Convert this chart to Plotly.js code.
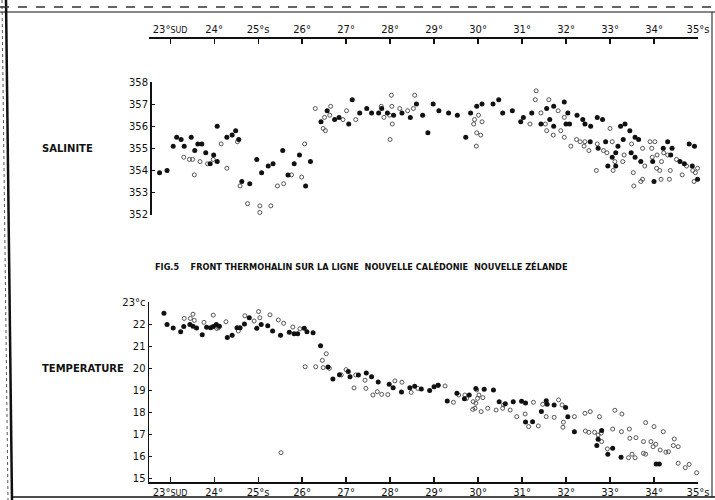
<!DOCTYPE html>
<html>
<head>
<meta charset="utf-8">
<script src="https://cdn.plot.ly/plotly-3.0.1.min.js"></script>
<style>html,body{margin:0;padding:0;background:#fff;}#chart{width:715px;height:500px;}</style>
</head>
<body>
<div id="chart"></div>
<script>
// ---- Longitude ticks (degrees south latitude along the section) ----
const latTickVals = [23,24,25,26,27,28,29,30,31,32,33,34,35];
const latTickText = ["23°<span style='font-size:8px'>SUD</span>","24°","25°s","26°","27°","28°","29°","30°","31°","32°","33°","34°","35°s"];

// ---- Salinity ticks ----
const salTickVals = [35.2,35.3,35.4,35.5,35.6,35.7,35.8];
const salTickText = ["352","353","354","355","356","357","358"];

// ---- Temperature ticks ----
const tempTickVals = [15,16,17,18,19,20,21,22,23];
const tempTickText = ["15","16","17","18","19","20","21","22","23°c"];

// ---- Salinity: filled dots ----
const salFilledLat = [22.76,22.93,23.07,23.15,23.25,23.32,23.48,23.56,23.63,23.72,23.81,23.91,23.99,24.07,24.07,24.29,24.41,24.49,24.56,24.63,24.81,24.97,25.08,25.23,25.34,25.56,25.68,25.82,25.94,26.08,26.19,26.43,26.57,26.74,26.84,
27.14,27.06,27.31,27.47,27.58,27.74,27.81,27.94,28.08,28.27,28.46,28.60,28.74,28.86,28.98,29.11,29.33,29.53,29.72,29.83,29.97,30.09,30.34,30.47,30.56,30.78,30.97,31.03,
31.22,31.43,31.56,31.63,31.72,31.72,31.96,32.00,32.04,32.08,32.25,32.38,32.43,32.56,32.71,32.83,33.24,33.34,33.45,32.55,32.73,32.90,33.13,33.30,33.05,32.95,33.13,33.18,33.48,33.57,33.65,33.57,33.70,33.97,34.21,34.31,34.41,34.38,34.59,34.69,34.80,34.92,34.87,34.00,34.99];
const salFilled = [35.39,35.40,35.51,35.55,35.54,35.51,35.55,35.49,35.52,35.52,35.48,35.43,35.47,35.44,35.60,35.55,35.56,35.58,35.54,35.35,35.34,35.45,35.39,35.42,35.43,35.49,35.38,35.43,35.47,35.33,35.44,35.62,35.67,35.63,35.64,
35.72,35.61,35.66,35.68,35.66,35.66,35.68,35.66,35.65,35.66,35.64,35.70,35.65,35.57,35.70,35.67,35.66,35.65,35.55,35.66,35.69,35.70,35.70,35.72,35.66,35.67,35.62,35.64,
35.66,35.61,35.68,35.63,35.69,35.60,35.71,35.61,35.66,35.61,35.65,35.63,35.61,35.60,35.64,35.63,35.60,35.61,35.58,35.53,35.50,35.53,35.48,35.54,35.46,35.42,35.42,35.51,35.48,35.55,35.54,35.46,35.44,35.44,35.50,35.53,35.50,35.47,35.44,35.43,35.52,35.51,35.42,35.35,35.36];

// ---- Salinity: open circles ----
const salOpenLat = [23.31,23.44,23.51,23.55,23.68,23.85,23.98,24.16,24.29,24.53,24.59,24.76,25.04,25.04,25.29,25.44,25.58,25.76,25.99,26.06,26.30,26.48,26.53,26.63,26.65,26.51,
26.93,27.01,27.22,27.80,27.86,28.03,28.04,27.99,28.05,28.00,28.22,28.40,28.53,28.56,29.92,29.90,30.01,30.09,29.97,30.06,29.96,
31.32,31.30,31.61,31.82,31.43,31.18,31.53,31.56,31.71,31.88,31.96,31.96,32.11,32.24,32.32,32.43,32.41,32.52,32.71,32.85,32.93,33.00,33.05,33.11,33.29,33.32,32.69,33.07,33.49,33.53,33.54,33.70,33.74,33.74,33.79,33.91,33.95,34.02,33.96,34.07,34.06,34.13,34.17,34.22,34.31,34.35,34.51,34.64,34.74,34.88,34.94,34.99,34.91,34.16,34.37];
const salOpen = [35.46,35.45,35.45,35.38,35.44,35.43,35.45,35.52,35.41,35.53,35.33,35.25,35.24,35.21,35.24,35.33,35.34,35.38,35.37,35.52,35.68,35.59,35.58,35.65,35.69,35.64,
35.63,35.67,35.63,35.69,35.64,35.74,35.69,35.65,35.61,35.54,35.68,35.67,35.68,35.74,35.63,35.61,35.65,35.62,35.57,35.56,35.51,
35.76,35.72,35.72,35.67,35.66,35.61,35.61,35.58,35.56,35.58,35.55,35.64,35.51,35.54,35.53,35.53,35.51,35.49,35.52,35.49,35.48,35.59,35.53,35.44,35.44,35.47,35.40,35.40,35.52,35.39,35.33,35.35,35.36,35.50,35.42,35.53,35.50,35.53,35.46,35.47,35.41,35.40,35.44,35.48,35.47,35.36,35.45,35.38,35.42,35.40,35.39,35.41,35.35,35.36,35.40];

// ---- Temperature: filled dots ----
const tempFilledLat = [22.86,22.93,23.07,23.24,23.31,23.45,23.52,23.60,23.73,23.83,23.92,23.98,24.05,24.12,24.30,24.41,24.52,24.59,24.69,24.80,24.97,25.07,25.22,25.33,25.51,25.71,25.82,25.90,26.05,26.11,26.25,26.42,26.59,26.70,26.85,
27.05,27.09,27.28,27.46,27.58,27.73,27.98,28.07,28.26,28.45,28.56,28.71,28.90,29.00,29.09,29.30,29.52,29.69,29.80,29.95,30.14,30.35,30.48,30.62,30.80,30.99,31.08,31.08,
31.24,31.55,31.57,31.73,32.04,31.99,31.44,32.19,32.73,32.70,32.81,33.06,32.95,33.25,34.05,34.12];
const tempFilled = [22.50,22.00,21.84,21.67,21.90,21.99,21.91,21.84,21.53,21.87,21.85,21.90,21.99,21.91,21.40,21.51,21.85,21.85,22.02,22.30,21.82,21.99,21.94,21.70,21.51,21.64,21.58,21.58,21.82,21.67,21.62,21.03,20.07,19.53,19.72,
19.87,19.63,19.71,19.80,19.63,19.39,19.29,19.13,18.94,19.13,19.20,19.07,19.00,19.18,19.24,18.53,18.88,18.63,18.80,19.10,19.06,19.03,18.50,18.41,18.50,18.52,18.44,17.58,
17.59,18.54,18.38,18.35,17.82,18.23,18.05,17.14,16.80,16.51,17.19,16.39,16.12,15.98,15.68,15.68];

// ---- Temperature: open circles ----
const tempOpenLat = [23.32,23.46,23.52,23.55,23.77,23.98,24.06,24.10,24.27,24.55,24.70,24.91,25.01,25.04,25.27,25.46,25.58,25.79,25.95,26.07,26.31,26.46,26.55,26.48,26.62,25.52,
26.89,27.00,27.18,27.22,27.43,27.45,27.61,27.71,27.81,27.95,28.11,28.27,28.48,28.63,29.10,29.25,29.44,29.56,29.70,29.74,29.89,29.97,29.99,29.95,29.93,30.02,30.11,30.22,30.07,29.88,30.41,30.56,30.58,30.73,30.88,31.07,31.15,
31.26,31.47,31.55,31.73,31.83,31.91,32.19,31.94,31.93,31.37,32.43,32.55,32.76,33.11,33.27,32.44,32.52,32.65,32.73,32.80,33.06,33.26,33.44,32.81,32.94,33.45,33.59,33.76,33.81,34.00,34.21,33.93,33.98,34.04,34.14,34.33,34.44,34.46,34.55,34.27,33.81,33.57,33.50,33.42,33.76,34.55,34.80,34.71,34.97];
const tempOpen = [22.27,22.27,22.46,22.18,22.09,22.42,21.82,21.85,22.12,21.70,22.39,22.15,22.58,22.30,22.43,22.20,22.05,21.88,21.80,20.08,20.08,20.37,20.67,20.04,20.01,16.19,
19.71,19.95,19.12,19.71,19.47,19.10,18.80,18.95,18.83,18.82,19.44,19.38,18.92,19.10,19.24,19.21,18.47,18.80,18.80,18.65,18.50,19.03,18.65,18.43,18.20,18.80,18.68,18.20,18.05,18.15,18.12,18.20,18.35,18.12,17.82,17.94,17.37,
18.47,18.38,17.82,17.79,18.58,18.35,17.82,17.57,17.34,17.40,17.97,18.05,17.82,18.11,17.94,17.17,17.11,17.11,16.99,17.07,17.26,17.14,17.26,16.69,16.36,16.84,16.87,16.69,17.55,17.37,17.14,16.69,16.46,16.57,16.31,16.23,16.51,16.81,16.46,16.21,16.12,15.96,16.12,15.96,16.16,15.71,15.66,15.51,15.28];

const INK = '#111111';
const filledMarker = {symbol:'circle', size:5, color:INK};
const openMarker = {symbol:'circle-open', size:4, color:'#444444', line:{width:0.9, color:'#444444'}};

const traces = [
  {x: salOpenLat, y: salOpen, xaxis:'x2', yaxis:'y2', type:'scatter', mode:'markers', marker: openMarker, cliponaxis:false, name:'Salinité (o)'},
  {x: salFilledLat, y: salFilled, xaxis:'x2', yaxis:'y2', type:'scatter', mode:'markers', marker: filledMarker, cliponaxis:false, name:'Salinité'},
  {x: tempOpenLat, y: tempOpen, xaxis:'x', yaxis:'y', type:'scatter', mode:'markers', marker: openMarker, cliponaxis:false, name:'Température (o)'},
  {x: tempFilledLat, y: tempFilled, xaxis:'x', yaxis:'y', type:'scatter', mode:'markers', marker: filledMarker, cliponaxis:false, name:'Température'}
];

const W = 715, H = 500;
const px = v => v / W;
const py = v => 1 - v / H;
const tickFont = {family:'DejaVu Sans, sans-serif', size:10, color:INK};
const xDomain = [px(149), px(698)];
const xRange = [22.52, 35.0];

const layout = {
  width: W, height: H,
  margin: {l:0, r:0, t:0, b:0},
  paper_bgcolor: '#ffffff',
  plot_bgcolor: 'rgba(0,0,0,0)',
  showlegend: false,
  font: {family:'DejaVu Sans, sans-serif', color: INK},
  title: {
    text: 'FIG.5    FRONT THERMOHALIN SUR LA LIGNE  NOUVELLE CALÉDONIE  NOUVELLE ZÉLANDE',
    x: px(155), xanchor: 'left', xref: 'paper',
    y: py(267), yanchor: 'middle', yref: 'paper',
    font: {family:'DejaVu Sans, sans-serif', size:8.2, color:INK, weight:'bold'}
  },
  xaxis: {
    domain: xDomain, range: xRange, anchor: 'y',
    tickvals: latTickVals, ticktext: latTickText,
    ticks: 'inside', ticklen: 5, tickwidth: 1.2, tickcolor: INK,
    showline: true, linecolor: INK, linewidth: 1.5,
    showgrid: false, zeroline: false, tickfont: tickFont
  },
  yaxis: {
    domain: [py(482), py(302.3)], range: [14.86, 23.0], anchor: 'x',
    tickvals: tempTickVals, ticktext: tempTickText,
    ticks: 'inside', ticklen: 3, tickwidth: 1, tickcolor: INK,
    showline: true, linecolor: INK, linewidth: 1.5,
    showgrid: false, zeroline: false, tickfont: tickFont
  },
  xaxis2: {
    domain: xDomain, range: xRange, anchor: 'free', position: py(37), side: 'top',
    tickvals: latTickVals, ticktext: latTickText,
    ticks: 'inside', ticklen: 5, tickwidth: 1.2, tickcolor: INK,
    showline: true, linecolor: INK, linewidth: 1.5,
    showgrid: false, zeroline: false, tickfont: tickFont
  },
  yaxis2: {
    domain: [py(214.7), py(82)], range: [35.2, 35.8], anchor: 'free', position: px(150),
    tickvals: salTickVals, ticktext: salTickText,
    ticks: 'inside', ticklen: 3, tickwidth: 1, tickcolor: INK,
    showline: true, linecolor: INK, linewidth: 1.5,
    showgrid: false, zeroline: false, tickfont: tickFont
  },
  annotations: [
    {text:'SALINITE', xref:'paper', yref:'paper', x: px(40), y: py(148), xanchor:'left', yanchor:'middle', showarrow:false,
     font:{family:'DejaVu Sans, sans-serif', size:10, color:INK, weight:'bold'}},
    {text:'TEMPERATURE', xref:'paper', yref:'paper', x: px(40), y: py(368), xanchor:'left', yanchor:'middle', showarrow:false,
     font:{family:'DejaVu Sans, sans-serif', size:10, color:INK, weight:'bold'}}
  ],
  shapes: [
    {type:'line', xref:'paper', yref:'paper', x0: px(6), y0: 1, x1: px(12), y1: 0, line:{color:INK, width:2.5}},
    {type:'line', xref:'paper', yref:'paper', x0: px(2), y0: 1, x1: px(8), y1: 0, line:{color:'#555', width:1, dash:'dot'}},
    {type:'line', xref:'paper', yref:'paper', x0: 0, y0: py(7), x1: 1, y1: py(7), line:{color:'#333', width:1.5, dash:'dash'}},
    {type:'line', xref:'paper', yref:'paper', x0: 0, y0: py(12), x1: 1, y1: py(12), line:{color:INK, width:1.2}},
    {type:'line', xref:'paper', yref:'paper', x0: px(12), y0: py(497), x1: 1, y1: py(497), line:{color:INK, width:1.5}},
    {type:'line', xref:'paper', yref:'paper', x0: px(712), y0: py(12), x1: px(712), y1: py(497), line:{color:INK, width:1}}
  ]
};

Plotly.newPlot('chart', traces, layout, {staticPlot:true, displayModeBar:false});
</script>
</body>
</html>
